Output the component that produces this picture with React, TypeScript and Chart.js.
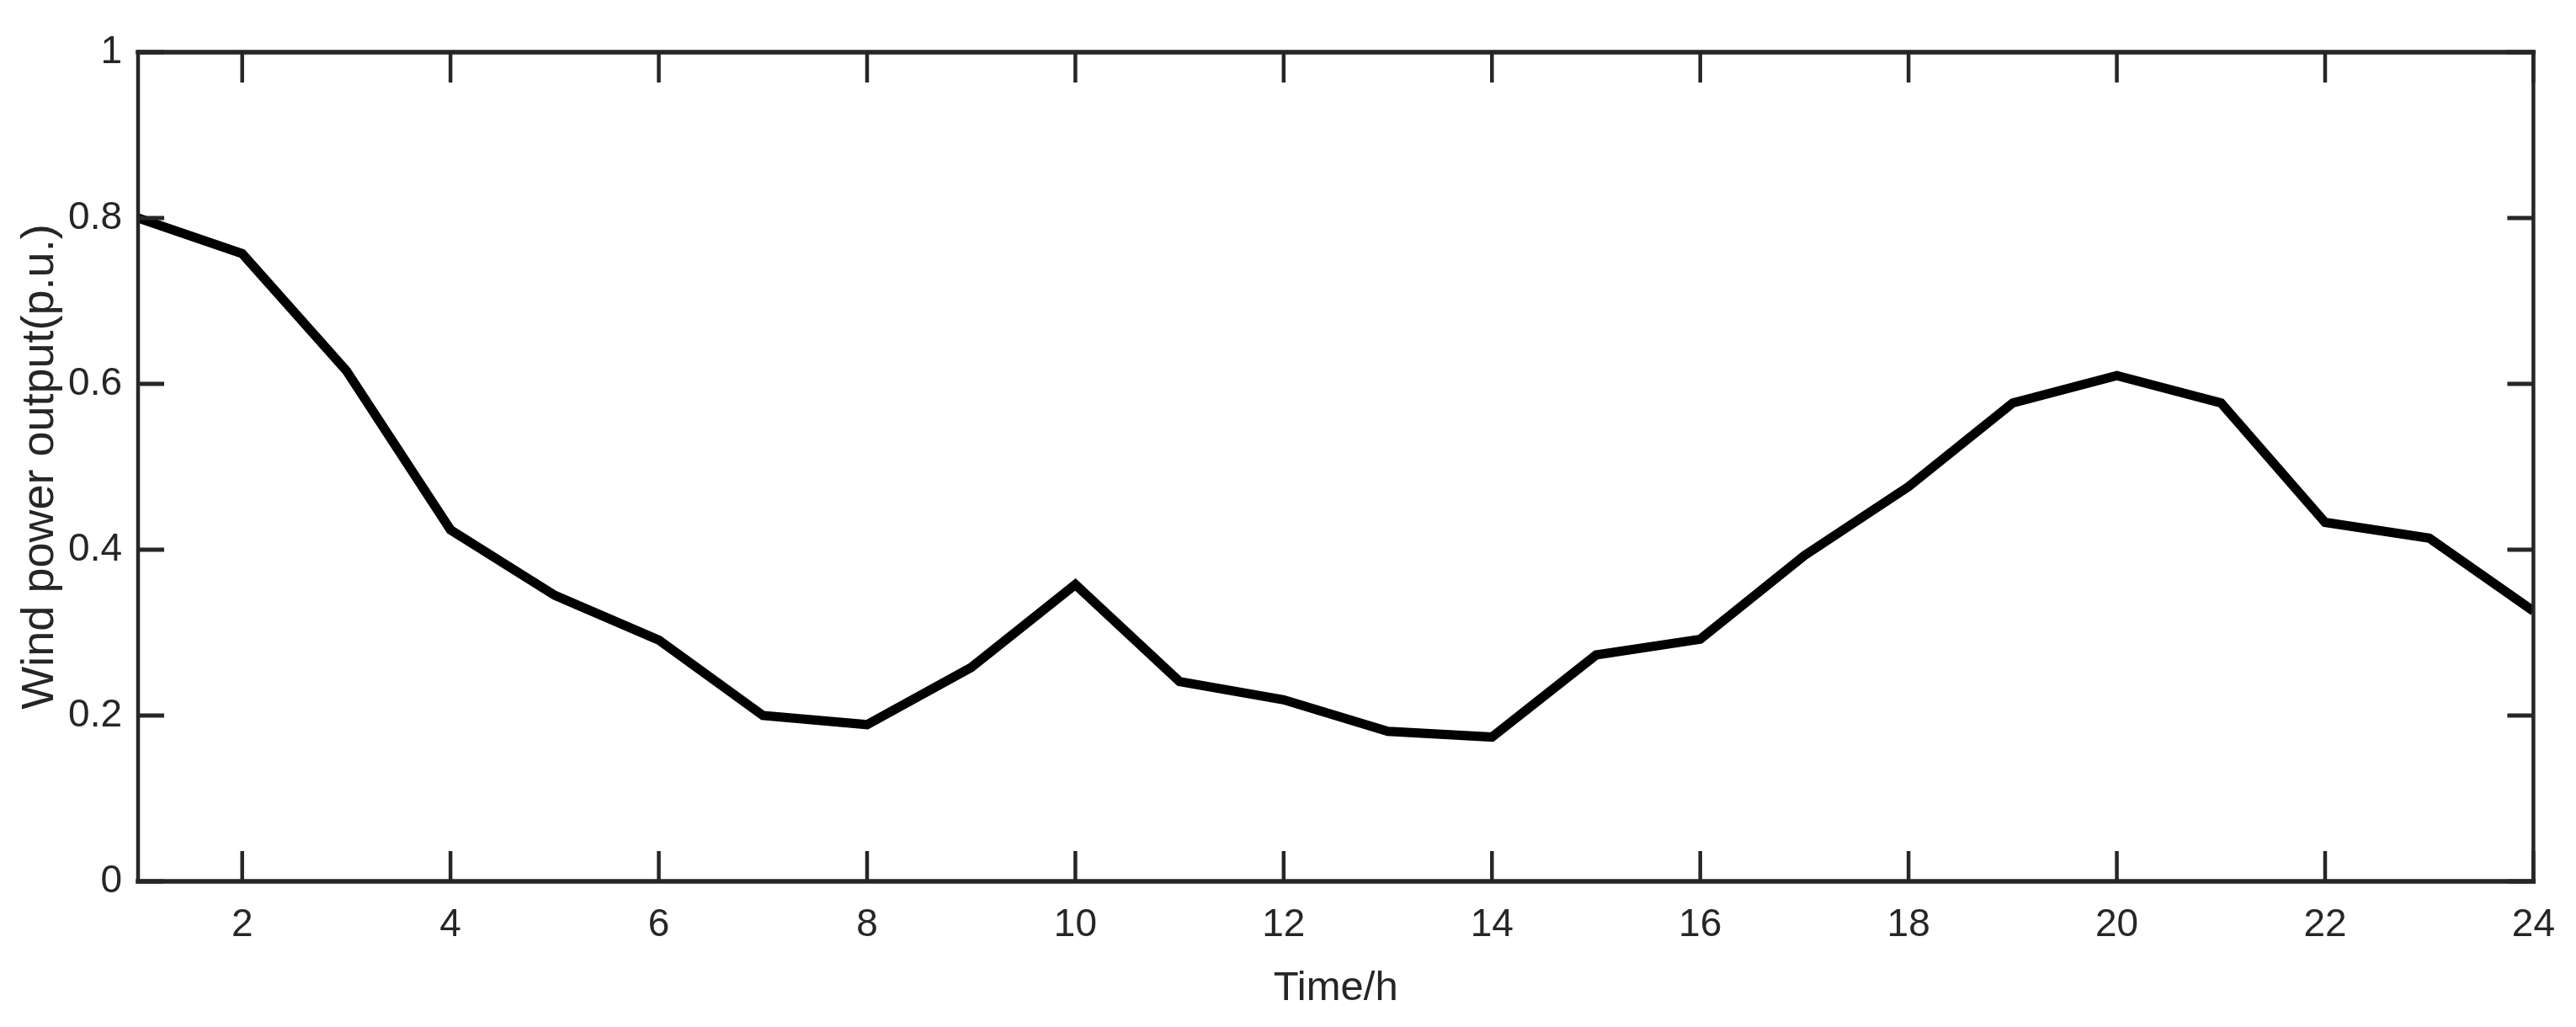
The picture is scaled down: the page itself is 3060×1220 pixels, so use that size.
import React, { useEffect, useRef } from "react";
import { Chart, registerables } from "chart.js";

Chart.register(...registerables);

// ---- data ----
const hours = [1, 2, 3, 4, 5, 6, 7, 8, 9, 10, 11, 12, 13, 14, 15, 16, 17, 18, 19, 20, 21, 22, 23, 24];
const windOutput = [
  0.8, 0.757, 0.616, 0.424, 0.345, 0.291, 0.2, 0.189, 0.258, 0.358, 0.241, 0.219,
  0.181, 0.174, 0.273, 0.292, 0.393, 0.476, 0.577, 0.61, 0.577, 0.433, 0.414, 0.326,
];
const xTickValues = [2, 4, 6, 8, 10, 12, 14, 16, 18, 20, 22, 24];
const xTickLabels = ["2", "4", "6", "8", "10", "12", "14", "16", "18", "20", "22", "24"];
const yTickValues = [0, 0.2, 0.4, 0.6, 0.8, 1];
const yTickLabels = ["0", "0.2", "0.4", "0.6", "0.8", "1"];
const xTitle = "Time/h";
const yTitle = "Wind power output(p.u.)";

// ---- style ----
const FONT_FAMILY = "'Liberation Sans', Arial, Helvetica, sans-serif";
const AXIS_COLOR = "#262626";
const TEXT_COLOR = "#262626";

const boxPlugin = {
  id: "matlabBox",
  afterDatasetsDraw(chart: any) {
    const { ctx, chartArea, scales } = chart;
    const { left, right, top, bottom } = chartArea;
    const x = scales.x;
    const y = scales.y;
    const XT = 36;
    const YT = 31;
    ctx.save();
    ctx.strokeStyle = AXIS_COLOR;
    ctx.lineCap = "butt";
    const seg = (x1: number, y1: number, x2: number, y2: number) => {
      ctx.beginPath();
      ctx.moveTo(x1, y1);
      ctx.lineTo(x2, y2);
      ctx.stroke();
    };
    // vertical tick marks (x axis), inward on bottom and top
    ctx.lineWidth = 4.5;
    xTickValues.forEach((v) => {
      const px = x.getPixelForValue(v);
      seg(px, bottom, px, bottom - XT);
      seg(px, top, px, top + XT);
    });
    // horizontal tick marks (y axis), inward on left and right
    ctx.lineWidth = 5;
    yTickValues.forEach((v) => {
      const py = y.getPixelForValue(v);
      seg(left, py, left + YT, py);
      seg(right, py, right - YT, py);
    });
    // box
    ctx.lineCap = "square";
    ctx.lineWidth = 5.5;
    seg(left, bottom, right, bottom);
    seg(left, top, right, top);
    ctx.lineWidth = 4.5;
    seg(left, top, left, bottom);
    seg(right, top, right, bottom);
    ctx.restore();
  },
};

export default function App() {
  const canvasRef = useRef<HTMLCanvasElement | null>(null);

  useEffect(() => {
    document.body.style.margin = "0";
    const canvas = canvasRef.current;
    if (!canvas) return;
    const chart = new Chart(canvas, {
      type: "line",
      data: {
        datasets: [
          {
            data: hours.map((h, i) => ({ x: h, y: windOutput[i] })),
            borderColor: "#000000",
            backgroundColor: "#000000",
            borderWidth: 11,
            borderJoinStyle: "miter",
            borderCapStyle: "butt",
            pointRadius: 0,
            tension: 0,
            fill: false,
          },
        ],
      },
      options: {
        animation: false,
        responsive: true,
        maintainAspectRatio: false,
        devicePixelRatio: 1,
        layout: { padding: { top: 62, right: 45, left: 0, bottom: 0 } },
        plugins: {
          legend: { display: false },
          tooltip: { enabled: false },
          title: { display: false },
        },
        events: [],
        scales: {
          x: {
            type: "linear",
            min: 1,
            max: 24,
            afterBuildTicks: (scale: any) => {
              scale.ticks = xTickValues.map((v) => ({ value: v }));
            },
            afterFit: (scale: any) => {
              scale.height = 173;
            },
            grid: { display: false, drawTicks: false },
            border: { display: false },
            ticks: {
              autoSkip: false,
              maxRotation: 0,
              minRotation: 0,
              padding: 25,
              color: TEXT_COLOR,
              font: { family: FONT_FAMILY, size: 46 },
              callback: (v: any) => {
                const i = xTickValues.indexOf(Number(v));
                return i >= 0 ? xTickLabels[i] : "";
              },
            },
            title: {
              display: true,
              text: xTitle,
              color: TEXT_COLOR,
              font: { family: FONT_FAMILY, size: 49 },
              padding: { top: 0, bottom: 16 },
            },
          },
          y: {
            type: "linear",
            min: 0,
            max: 1,
            afterBuildTicks: (scale: any) => {
              scale.ticks = yTickValues.map((v) => ({ value: v }));
            },
            afterFit: (scale: any) => {
              scale.width = 164;
            },
            grid: { display: false, drawTicks: false },
            border: { display: false },
            ticks: {
              autoSkip: false,
              padding: 19,
              color: TEXT_COLOR,
              font: { family: FONT_FAMILY, size: 46 },
              callback: (v: any) => {
                const i = yTickValues.findIndex((t) => Math.abs(t - Number(v)) < 1e-9);
                return i >= 0 ? yTickLabels[i] : "";
              },
            },
            title: {
              display: true,
              text: yTitle,
              color: TEXT_COLOR,
              font: { family: FONT_FAMILY, size: 54 },
              padding: { top: 16, bottom: 0 },
            },
          },
        },
      },
      plugins: [boxPlugin],
    } as any);
    return () => {
      chart.destroy();
    };
  }, []);

  return (
    <div style={{ position: "relative", width: "3060px", height: "1220px", background: "#ffffff" }}>
      <canvas ref={canvasRef} />
    </div>
  );
}
